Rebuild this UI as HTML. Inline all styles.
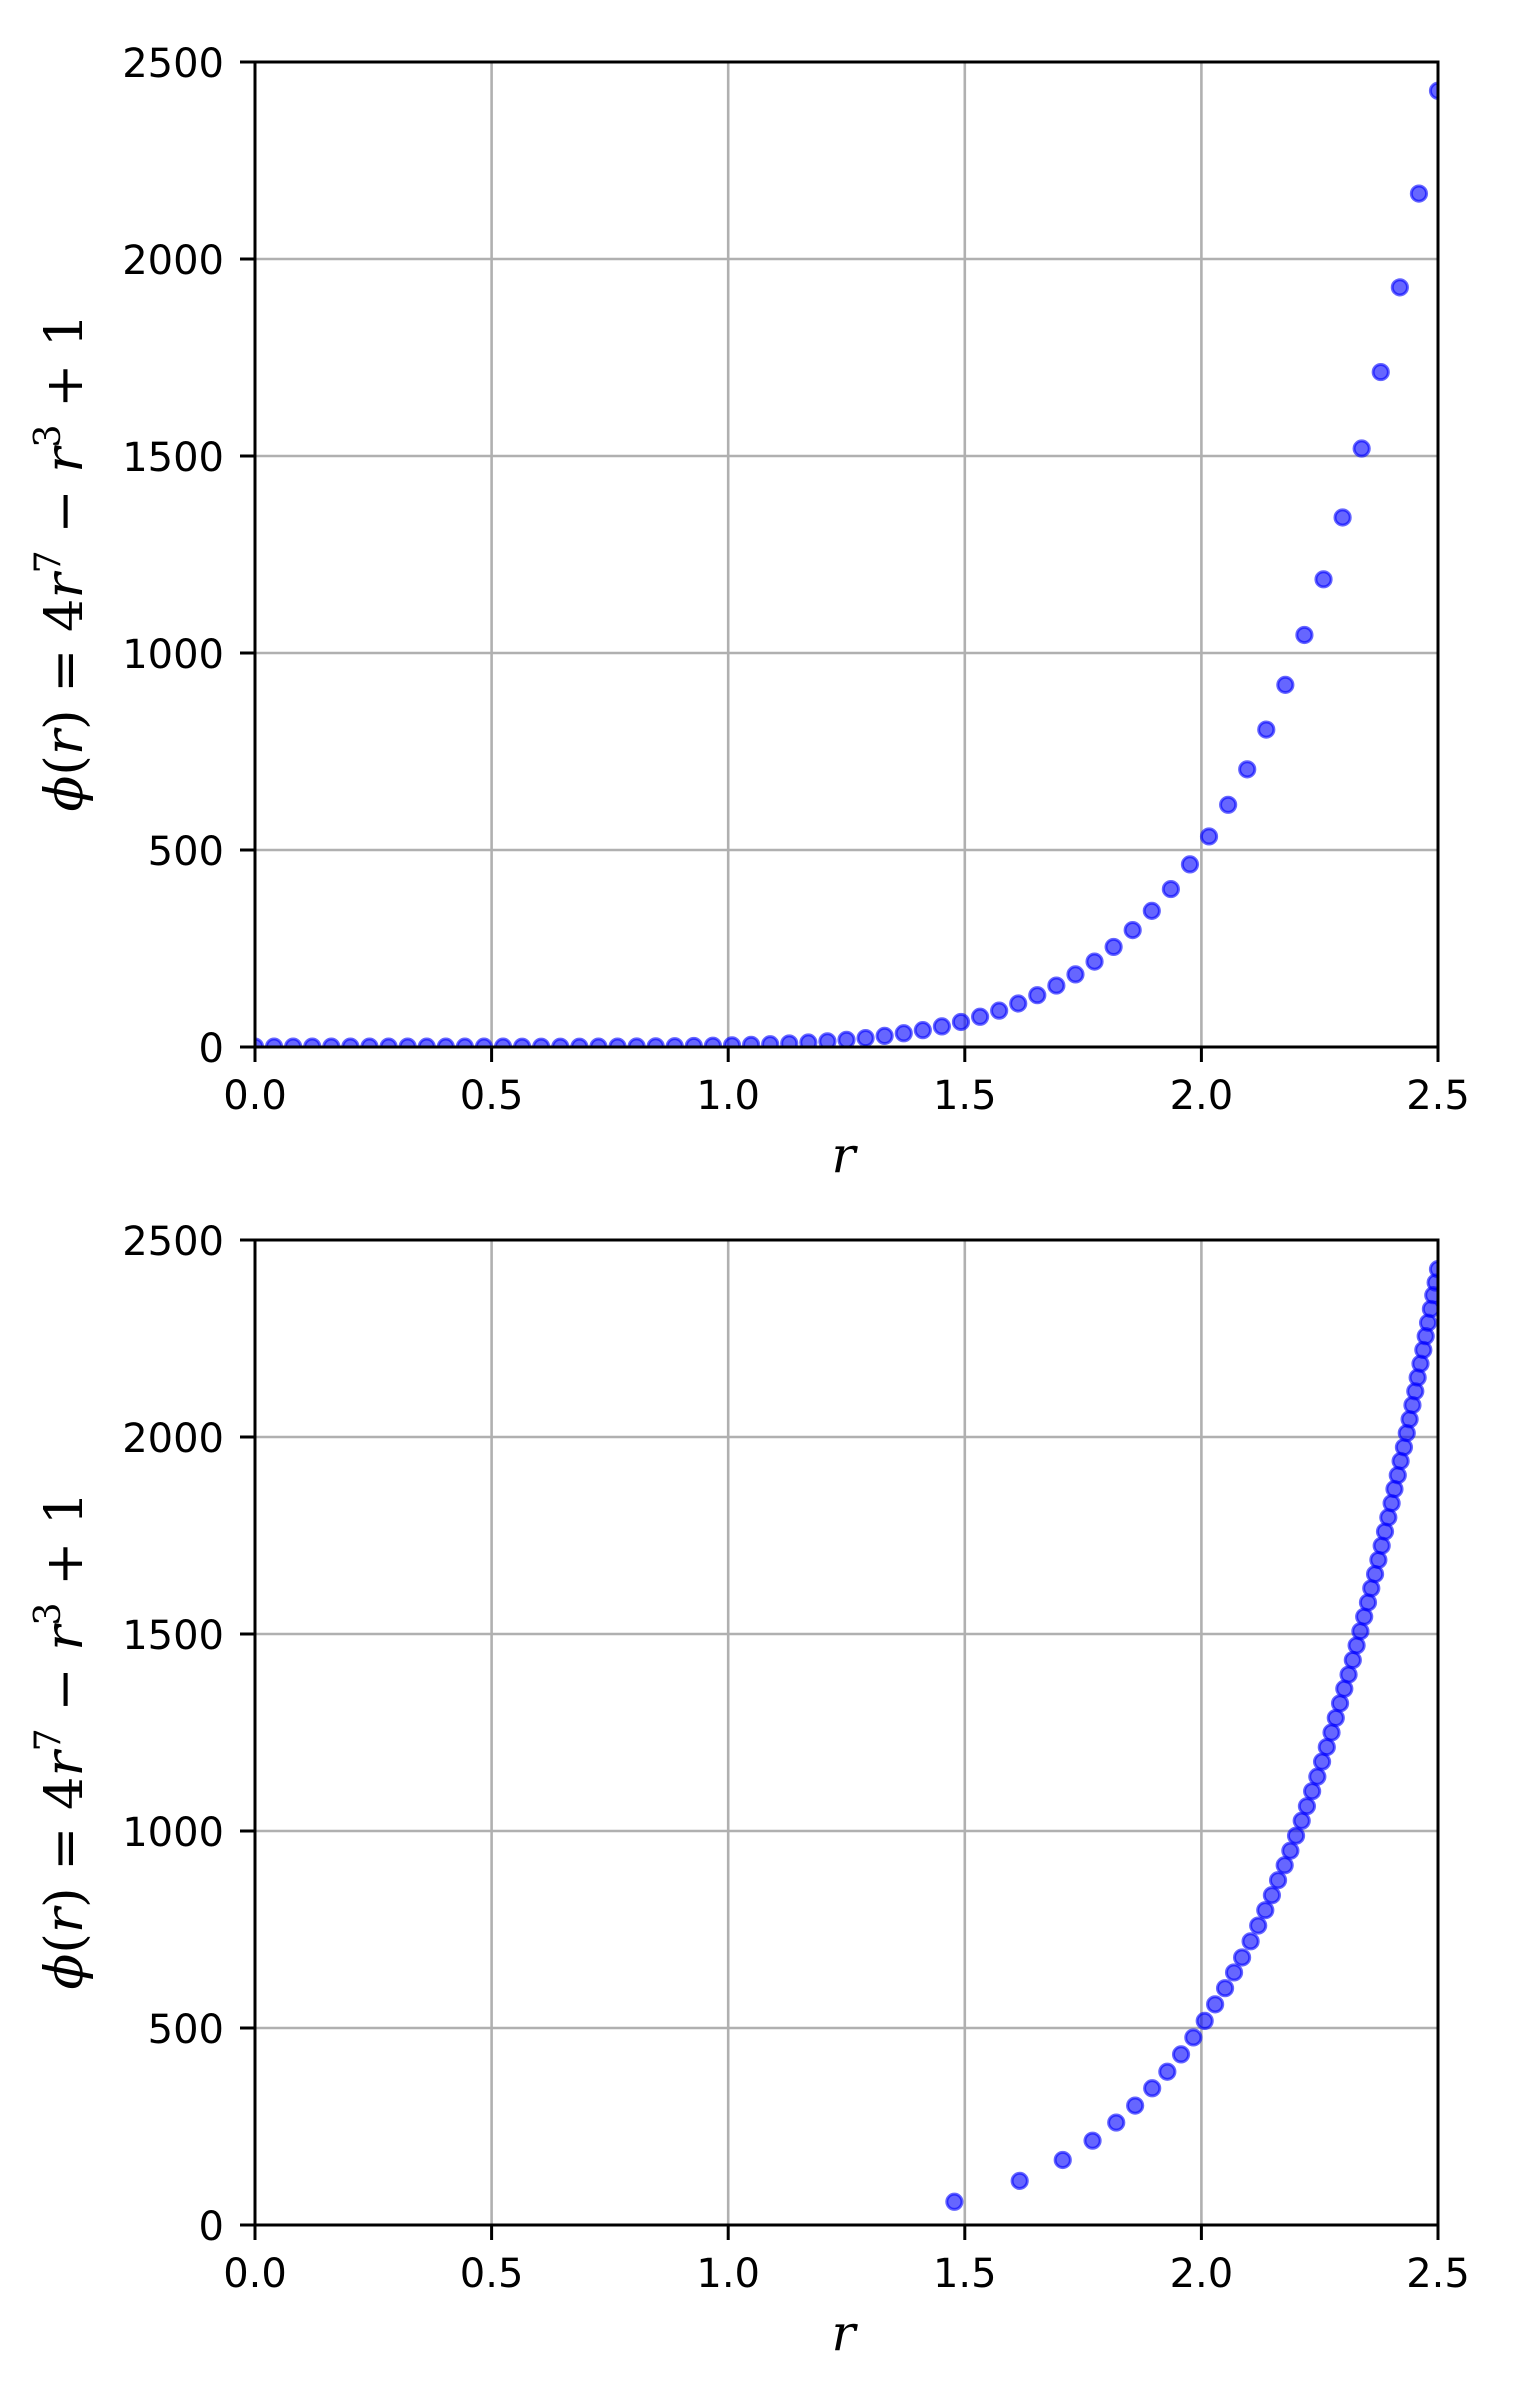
<!DOCTYPE html>
<html><head><meta charset="utf-8"><style>
html,body{margin:0;padding:0;background:#fff}
svg{display:block}
text{font-family:"DejaVu Sans","Liberation Sans",sans-serif}
.math{font-family:"DejaVu Serif","Liberation Serif",serif}
</style></head><body>
<svg id="fig" width="1516" height="2400" viewBox="0 0 1516 2400" xmlns="http://www.w3.org/2000/svg"></svg>
<script>
// ---- data ----
const xTicks = [0.0, 0.5, 1.0, 1.5, 2.0, 2.5];
const xTickLabels = ["0.0","0.5","1.0","1.5","2.0","2.5"];
const yTicks = [0, 500, 1000, 1500, 2000, 2500];
const yTickLabels = ["0","500","1000","1500","2000","2500"];
const topR = [0,0.0403,0.0806,0.121,0.1613,0.2016,0.2419,0.2823,0.3226,0.3629,0.4032,0.4435,0.4839,0.5242,0.5645,0.6048,0.6452,0.6855,0.7258,0.7661,0.8065,0.8468,0.8871,0.9274,0.9677,1.0081,1.0484,1.0887,1.129,1.1694,1.2097,1.25,1.2903,1.3306,1.371,1.4113,1.4516,1.4919,1.5323,1.5726,1.6129,1.6532,1.6935,1.7339,1.7742,1.8145,1.8548,1.8952,1.9355,1.9758,2.0161,2.0565,2.0968,2.1371,2.1774,2.2177,2.2581,2.2984,2.3387,2.379,2.4194,2.4597,2.5];
const topPhi = [1,1,1,1,1,0.99,0.99,0.98,0.97,0.95,0.94,0.91,0.89,0.86,0.83,0.80,0.77,0.75,1.04,1.17,1.36,1.64,2.03,2.57,3.27,4.21,5.42,6.96,8.91,11.36,14.39,18.12,22.67,28.19,34.84,42.79,52.26,63.48,76.76,92.27,110.4,131.5,155.9,184.3,216.7,254.0,296.7,345.5,400.8,463.5,534.4,614.7,704.7,805.6,919.1,1045.7,1187,1344,1519,1713,1928,2166,2427];
const botR = [1.478,1.616,1.707,1.770,1.820,1.860,1.896,1.928,1.957,1.983,2.007,2.029,2.050,2.069,2.086,2.104,2.120,2.135,2.149,2.162,2.176,2.188,2.200,2.212,2.223,2.234,2.245,2.255,2.265,2.275,2.284,2.293,2.302,2.311,2.320,2.328,2.336,2.344,2.352,2.359,2.367,2.374,2.381,2.388,2.395,2.402,2.408,2.415,2.421,2.428,2.434,2.440,2.446,2.452,2.457,2.463,2.469,2.474,2.479,2.485,2.490,2.495,2.500];
const botPhi = [59,112,165,214,260,303,347,389,433,476,518,560,601,641,679,720,760,799,837,875,913,950,988,1026,1063,1101,1138,1176,1213,1250,1287,1324,1361,1397,1434,1471,1507,1544,1580,1616,1652,1688,1724,1760,1796,1832,1868,1903,1939,1974,2010,2045,2081,2116,2151,2186,2221,2256,2290,2325,2360,2392,2426];

const NS = "http://www.w3.org/2000/svg";
const svg = document.getElementById('fig');
function mk(tag, attrs, parent){
  const e = document.createElementNS(NS, tag);
  for (const k in attrs) e.setAttribute(k, attrs[k]);
  (parent||svg).appendChild(e);
  return e;
}
const L = 255, R = 1438;
function drawPanel(idx, top, bottom, rs, phis){
  const g = mk('g', {});
  
  
  const xs = v => L + (v - 0) / 2.5 * (R - L);
  const ys = v => bottom - v / 2500 * (bottom - top);
  xTicks.forEach((t, i) => {
    const l = mk('line', {x1: xs(t), x2: xs(t), y1: top, y2: bottom, stroke: '#b0b0b0', 'stroke-width': 2.6}, g);
    
    
  });
  yTicks.forEach((t, i) => {
    const l = mk('line', {x1: L, x2: R, y1: ys(t), y2: ys(t), stroke: '#b0b0b0', 'stroke-width': 2.6}, g);
    
    
  });
  const cp = mk('clipPath', {id: 'clip' + idx}, g);
  mk('rect', {x: L, y: top, width: R - L, height: bottom - top}, cp);
  const pts = mk('g', {'clip-path': 'url(#clip' + idx + ')'}, g);
  
  
  rs.forEach((r, i) => {
    const c = mk('circle', {cx: xs(r), cy: ys(phis[i]), r: 7.6, fill: '#0000ff', 'fill-opacity': 0.6, stroke: '#0000ff', 'stroke-opacity': 0.6, 'stroke-width': 3}, pts);
    
    
  });
  const fr = mk('rect', {x: L, y: top, width: R - L, height: bottom - top, fill: 'none', stroke: '#000', 'stroke-width': 3}, g);
  
  
  xTicks.forEach((t, i) => {
    mk('line', {x1: xs(t), x2: xs(t), y1: bottom, y2: bottom + 15, stroke: '#000', 'stroke-width': 3}, g);
    const tx = mk('text', {x: xs(t), y: bottom + 62, 'font-size': 40, 'text-anchor': 'middle', fill: '#000'}, g);
    tx.textContent = xTickLabels[i];
    
    
  });
  yTicks.forEach((t, i) => {
    mk('line', {x1: L - 15, x2: L, y1: ys(t), y2: ys(t), stroke: '#000', 'stroke-width': 3}, g);
    const tx = mk('text', {x: L - 31, y: ys(t) + 15, 'font-size': 40, 'text-anchor': 'end', fill: '#000'}, g);
    tx.textContent = yTickLabels[i];
    
    
  });
  const xt = mk('text', {x: (L + R) / 2 - 3, y: bottom + 125, 'font-size': 50, 'font-style': 'italic', 'text-anchor': 'middle', class: 'math'}, g);
  xt.textContent = 'r';
  
  
  const cy = (top + bottom) / 2 + 8;
  const yt = mk('text', {x: 0, y: 0, 'font-size': 52, 'text-anchor': 'middle', class: 'math', transform: 'translate(82,' + cy + ') rotate(-90)', textLength: 498, lengthAdjust: 'spacingAndGlyphs'}, g);
  
  
  yt.innerHTML = '<tspan font-style="italic">ϕ</tspan>(<tspan font-style="italic">r</tspan>) = 4<tspan font-style="italic">r</tspan><tspan dy="-22" font-size="36">7</tspan><tspan dy="22"> − </tspan><tspan font-style="italic">r</tspan><tspan dy="-22" font-size="36">3</tspan><tspan dy="22"> + 1</tspan>';
}
drawPanel(1, 62, 1047, topR, topPhi);
drawPanel(2, 1240, 2225, botR, botPhi);
</script>
</body></html>
